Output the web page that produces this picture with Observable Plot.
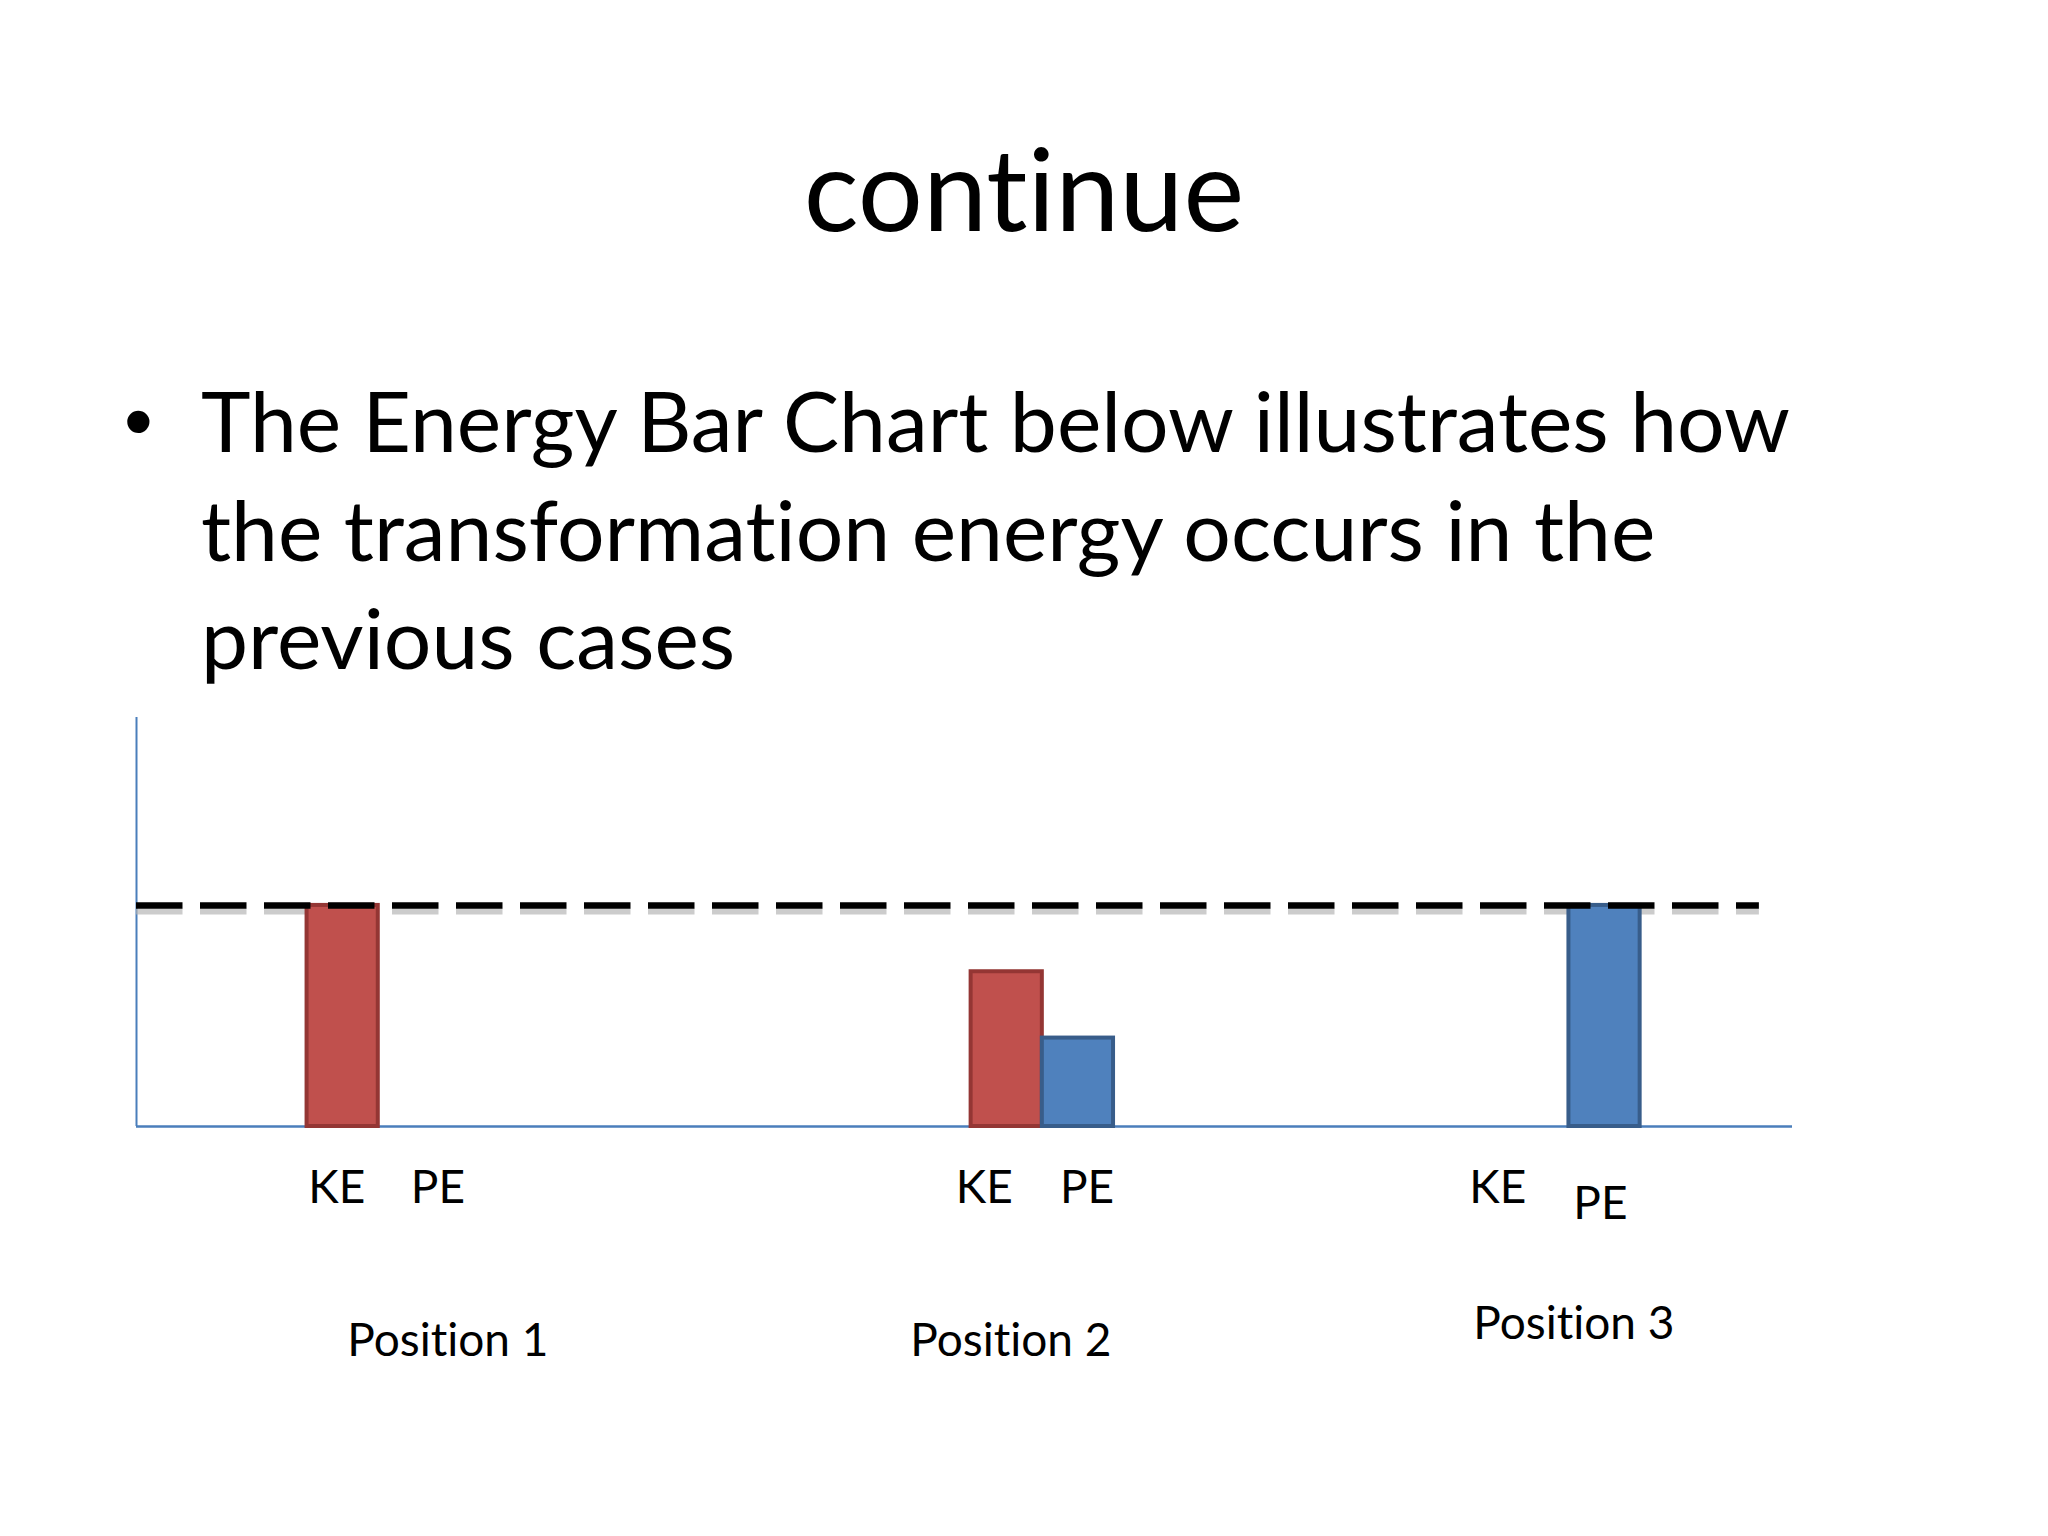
<!DOCTYPE html>
<html>
<head>
<meta charset="utf-8">
<script src="https://cdn.jsdelivr.net/npm/d3@7"></script>
<script src="https://cdn.jsdelivr.net/npm/@observablehq/plot@0.6"></script>
<style>
  * { font-variant-ligatures: none; font-feature-settings: "liga" 0, "clig" 0, "dlig" 0; }
  html, body { margin: 0; padding: 0; background: #fff; }
  body { width: 2048px; height: 1536px; position: relative; overflow: hidden; }
  #title { position: absolute; left: 0; width: 2048px; top: 117px; text-align: center;
           font-family: Lato, sans-serif; font-size: 115px; line-height: 1.2; color: #000; }
  #bullet { position: absolute; left: 124px; top: 367px; font-family: "Liberation Sans", Arial, sans-serif;
            font-size: 82px; line-height: 108.5px; color: #000; }
  #body { position: absolute; left: 201px; top: 366px; font-family: Lato, sans-serif; font-size: 84px;
          line-height: 108.5px; white-space: nowrap; color: #000; }
  #chart { position: absolute; left: 0; top: 690px; }
  #chart svg text { font-variant-ligatures: none; font-feature-settings: "liga" 0, "clig" 0; }
</style>
</head>
<body>
<div id="title">continue</div>
<div id="bullet">•</div>
<div id="body">The Energy Bar Chart below illustrates how<br>the transformation energy occurs in the<br>previous cases</div>
<div id="chart"></div>
<script>
// ---- data ----
const positions = ["Position 1", "Position 2", "Position 3"];
const groupAt = [14.6, 54.7, 86.5];      // x (chart units 0-100) where the KE and PE slots meet
const keValues = [1.0, 0.70, 0];          // kinetic energy (fraction of total)
const peValues = [0, 0.40, 1.0];          // potential energy (fraction of total)
const keLabelAt = [12.1, 51.2, 82.2];     // hand-placed "KE" text boxes
const peLabelAt = [18.2, 57.4, 88.4];     // hand-placed "PE" text boxes
const positionLabelAt = [18.8, 52.8, 86.8];
const totalEnergy = 1.0;                  // dashed reference level
const totalLineExtent = [0, 98.0];
const yTop = 1.85;

// ---- build tables ----
const BAR_W = 4.3;
const bars = positions.flatMap((p, i) => [
  {position: p, kind: "KE", x1: groupAt[i] - BAR_W, x2: groupAt[i], value: keValues[i]},
  {position: p, kind: "PE", x1: groupAt[i], x2: groupAt[i] + BAR_W, value: peValues[i]}
]).filter(d => d.value > 0);
const keBars = bars.filter(d => d.kind === "KE");
const peBars = bars.filter(d => d.kind === "PE");

const keLabels = positions.map((p, i) => ({x: keLabelAt[i], text: "KE", i}));
const peLabels = positions.map((p, i) => ({x: peLabelAt[i], text: "PE", i}));
const posLabels = positions.map((p, i) => ({x: positionLabelAt[i], text: p, i}));
const refLine = [{y: totalEnergy, x1: totalLineExtent[0], x2: totalLineExtent[1]}];

const FONT = "Lato, sans-serif";
const labelStyle = {fontSize: 46, fill: "#000", textAnchor: "middle", lineAnchor: "bottom", fontFamily: FONT};

const chart = Plot.plot({
  width: 2048,
  height: 846,
  marginLeft: 136,
  marginRight: 256,
  marginTop: 27,
  marginBottom: 410,
  x: {type: "linear", domain: [0, 100], axis: null},
  y: {type: "linear", domain: [0, yTop], axis: null},
  style: {background: "transparent", fontFamily: FONT, overflow: "visible"},
  marks: [
    // axes
    Plot.ruleX([0], {stroke: "#4a7ebb", strokeWidth: 2}),
    Plot.ruleY([0], {stroke: "#4a7ebb", strokeWidth: 2.5}),
    // shadow of the dashed total-energy line
    Plot.ruleY(refLine, {y: "y", x1: "x1", x2: "x2", dy: 6, stroke: "#b0b0b0", strokeWidth: 6,
      strokeOpacity: 0.65, strokeDasharray: "46.5,17.5"}),
    // bars
    Plot.rectY(keBars, {x1: "x1", x2: "x2", y1: 0, y2: "value", fill: "#c0504d", stroke: "#943634", strokeWidth: 4}),
    Plot.rectY(peBars, {x1: "x1", x2: "x2", y1: 0, y2: "value", fill: "#4f81bd", stroke: "#385d8a", strokeWidth: 4}),
    // dashed total-energy line
    Plot.ruleY(refLine, {y: "y", x1: "x1", x2: "x2", stroke: "#000", strokeWidth: 6.5,
      strokeDasharray: "46.5,17.5"}),
    // KE / PE labels
    Plot.text(keLabels, {x: "x", y: 0, text: "text", dy: 76, ...labelStyle}),
    Plot.text(peLabels.filter(d => d.i < 2), {x: "x", y: 0, text: "text", dy: 76, ...labelStyle}),
    Plot.text(peLabels.filter(d => d.i === 2), {x: "x", y: 0, text: "text", dy: 92, ...labelStyle}),
    // position labels
    Plot.text(posLabels.filter(d => d.i < 2), {x: "x", y: 0, text: "text", dy: 229, ...labelStyle}),
    Plot.text(posLabels.filter(d => d.i === 2), {x: "x", y: 0, text: "text", dy: 212, ...labelStyle})
  ]
});
document.getElementById("chart").appendChild(chart);
</script>
</body>
</html>
